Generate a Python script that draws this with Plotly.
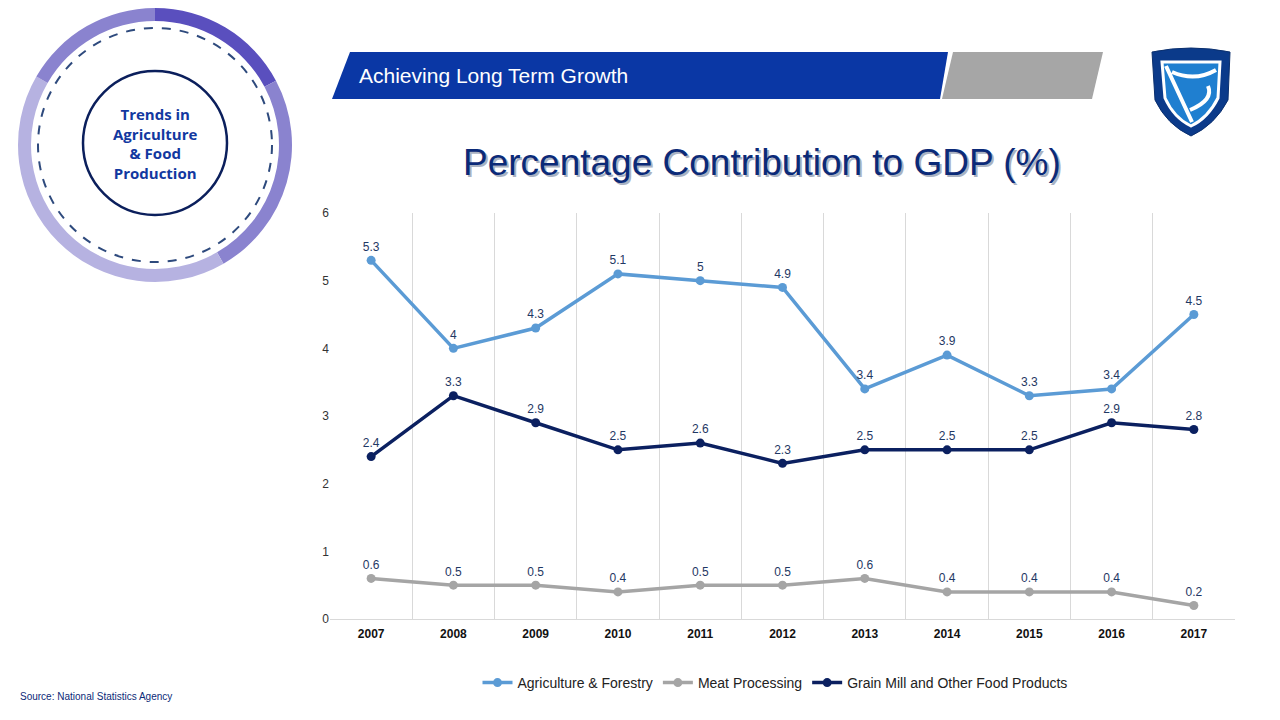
import plotly.graph_objects as go

years = [2007, 2008, 2009, 2010, 2011, 2012, 2013, 2014, 2015, 2016, 2017]
agri = [5.3, 4.0, 4.3, 5.1, 5.0, 4.9, 3.4, 3.9, 3.3, 3.4, 4.5]
meat = [0.6, 0.5, 0.5, 0.4, 0.5, 0.5, 0.6, 0.4, 0.4, 0.4, 0.2]
grain = [2.4, 3.3, 2.9, 2.5, 2.6, 2.3, 2.5, 2.5, 2.5, 2.9, 2.8]
series = [("Agriculture & Forestry", agri, "#5b9bd5"),
          ("Meat Processing", meat, "#a5a5a5"),
          ("Grain Mill and Other Food Products", grain, "#0b2060")]

ring_vals = [62, 88, 150, 60]
ring_cols = ["#5a4fbe", "#8a83cf", "#b6b2e1", "#8a83cf"]

NAVY = "#1f3864"
OFF = 8  # page body margin offset


def px(x):
    return (x - OFF) / 1280


def py(y):
    return (720 - (y - OFF)) / 720


fig = go.Figure()
for name, vals, col in series:
    fig.add_trace(go.Scatter(
        x=years, y=vals, name=name, mode="lines+markers+text",
        line=dict(color=col, width=3.5), marker=dict(size=9, color=col),
        text=[f"{v:g}" for v in vals], textposition="top center",
        textfont=dict(size=12, color=NAVY)))

# decorative ring
fig.add_trace(go.Pie(values=ring_vals, marker=dict(colors=ring_cols), hole=0.905,
                     sort=False, direction="clockwise", rotation=0, textinfo="none",
                     hoverinfo="skip", showlegend=False,
                     domain=dict(x=[px(18), px(292)], y=[py(282), py(8)])))

shapes = [
    dict(type="circle", xref="paper", yref="paper", x0=px(38), x1=px(272),
         y0=py(262), y1=py(28), line=dict(color="#2e4a7d", width=2, dash="dash")),
    dict(type="circle", xref="paper", yref="paper", x0=px(83), x1=px(227),
         y0=py(215), y1=py(71), line=dict(color="#0b1f5c", width=2.5), fillcolor="white"),
    dict(type="path", xref="paper", yref="paper",
         path=f"M {px(332)} {py(99)} L {px(350)} {py(52)} L {px(948)} {py(52)} L {px(940)} {py(99)} Z",
         fillcolor="#0a37a5", line=dict(width=0)),
    dict(type="path", xref="paper", yref="paper",
         path=f"M {px(942)} {py(99)} L {px(953)} {py(52)} L {px(1103)} {py(52)} L {px(1092)} {py(99)} Z",
         fillcolor="#a6a6a6", line=dict(width=0)),
    # logo shield
    dict(type="path", xref="paper", yref="paper",
         path=f"M {px(1152)} {py(52)} Q {px(1191)} {py(44)} {px(1230)} {py(52)} "
              f"L {px(1228)} {py(100)} Q {px(1215)} {py(125)} {px(1191)} {py(136)} "
              f"Q {px(1167)} {py(125)} {px(1155)} {py(100)} Z",
         fillcolor="#0b3a8a", line=dict(color="#0a2f6e", width=1)),
    dict(type="path", xref="paper", yref="paper",
         path=f"M {px(1162)} {py(62)} L {px(1220)} {py(62)} L {px(1218)} {py(98)} "
              f"Q {px(1208)} {py(118)} {px(1191)} {py(126)} Q {px(1174)} {py(118)} {px(1165)} {py(98)} Z",
         fillcolor="#1f7fd0", line=dict(color="white", width=3)),
    dict(type="path", xref="paper", yref="paper",
         path=f"M {px(1166)} {py(66)} L {px(1192)} {py(122)} "
              f"M {px(1172)} {py(72)} Q {px(1195)} {py(82)} {px(1216)} {py(70)} "
              f"M {px(1190)} {py(110)} Q {px(1214)} {py(100)} {px(1208)} {py(86)}",
         line=dict(color="white", width=4)),
]

TITLE = "Percentage Contribution to GDP (%)"
annotations = [
    dict(text="<b>Trends in<br>Agriculture<br>&amp; Food<br>Production</b>", x=px(155), y=py(143),
         font=dict(family="Open Sans", size=15, color="#1238a0"), xanchor="center"),
    dict(text="Achieving Long Term Growth", x=px(357), y=py(75), xanchor="left",
         font=dict(family="Liberation Sans", size=21, color="white")),
    dict(text=TITLE, x=px(764), y=py(164), xanchor="center",
         font=dict(family="Liberation Sans", size=37, color="#aab2c2")),
    dict(text=TITLE, x=px(762), y=py(162), xanchor="center",
         font=dict(family="Liberation Sans", size=37, color="#0b2a78")),
    dict(text="Source: National Statistics Agency", x=px(18), y=py(696), xanchor="left",
         font=dict(family="Liberation Sans", size=10, color="#0b2a78")),
]
for a in annotations:
    a.update(xref="paper", yref="paper", yanchor="middle", showarrow=False)

fig.update_layout(
    width=1280, height=720, margin=dict(l=0, r=0, t=0, b=0, autoexpand=False),
    paper_bgcolor="white", plot_bgcolor="white",
    font=dict(family="Liberation Sans"),
    shapes=shapes, annotations=annotations,
    xaxis=dict(domain=[px(330), px(1235)], range=[2006.5, 2017.5], tickmode="array",
               tickvals=years, ticktext=[f"<b>{y}</b>" for y in years], showgrid=False,
               tickfont=dict(size=12, color="#111111"), ticklabelstandoff=4,
               showline=True, linecolor="#d9d9d9", zeroline=False,
               minor=dict(tickmode="linear", tick0=2006.5, dtick=1, showgrid=True,
                          gridcolor="#d9d9d9", gridwidth=1)),
    yaxis=dict(domain=[py(619), py(213)], range=[0, 6], dtick=1, showgrid=False,
               zeroline=False, tickfont=dict(size=12, color="#333333")),
    legend=dict(orientation="h", x=px(775), xanchor="center", y=py(683), yanchor="middle",
                font=dict(size=14, color="#222222"), itemwidth=30),
)
fig.write_html("out.html")
